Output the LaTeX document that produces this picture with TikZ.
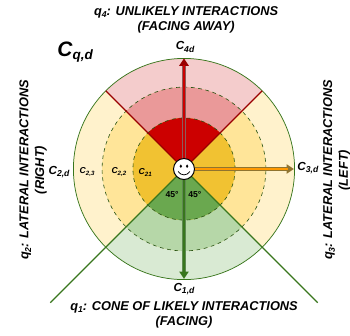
\documentclass[tikz,border=0pt]{standalone}
\usepackage{fontspec}
\setmainfont{Liberation Sans}
\definecolor{ltred}{HTML}{F4CCCC}
\definecolor{mdred}{HTML}{EA9999}
\definecolor{dkred}{HTML}{CC0000}
\definecolor{ltyellow}{HTML}{FFF2CC}
\definecolor{mdyellow}{HTML}{FFE599}
\definecolor{dkyellow}{HTML}{F1C232}
\definecolor{ltgreen}{HTML}{D9EAD3}
\definecolor{mdgreen}{HTML}{B6D7A8}
\definecolor{dkgreen}{HTML}{6AA84F}
\definecolor{linegreen}{HTML}{38761D}
\definecolor{linered}{HTML}{990000}
\definecolor{lineorange}{HTML}{FF9900}
\definecolor{edgered}{HTML}{8E5A5A}
\definecolor{edgegreen}{HTML}{5F8A52}
\definecolor{edgeorange}{HTML}{8F7430}
\usetikzlibrary{arrows.meta,positioning}
\newcommand{\lowsub}[1]{\raisebox{-0.4ex}{\scriptsize #1}}

\begin{document}
\begin{tikzpicture}[
  title/.style={font=\fontsize{10.4}{12.8}\selectfont\bfseries\itshape, align=center, text=black},
  clabel/.style={font=\fontsize{9.5}{11}\selectfont\bfseries\itshape, inner sep=0pt},
  rlabel/.style={font=\fontsize{7}{8}\selectfont\bfseries\itshape, inner sep=0pt},
  ring/.style={dashed, draw=linegreen!70!black, line width=0.5pt},
  core/.style={line width=1.4pt}
]
\useasboundingbox (-5.257,-4.743) rectangle (4.743,4.829);

% Rings
\foreach \rad/\colY/\colR/\colG in {3.16/ltyellow/ltred/ltgreen, 2.34/mdyellow/mdred/mdgreen, 1.46/dkyellow/dkred/dkgreen} {
  \fill[\colY] (0,0) circle (\rad);
  \fill[\colR] (0,0) -- (45:\rad) arc (45:135:\rad) -- cycle;
  \fill[\colG] (0,0) -- (225:\rad) arc (225:315:\rad) -- cycle;
}
\draw[ring] (0,0) circle (2.34);
\draw[ring] (0,0) circle (1.46);
\draw[linegreen, line width=0.6pt] (0,0) circle (3.16);

% Center node
\node[circle, draw=black, fill=white, line width=0.8pt, minimum size=0.6cm, inner sep=0pt] (face) at (0,0) {};

% Free ends
\coordinate (redl) at (135:3.16);
\coordinate (redr) at (45:3.16);
\coordinate (grnl) at (-3.82,-3.82);
\coordinate (grnr) at (3.82,-3.82);
\coordinate (up) at (0,3.16);
\coordinate (down) at (0,-3.14);
\coordinate (right) at (3.14,0);

% Sector lines
\draw[linered, line width=0.9pt] (face) -- (redl);
\draw[linered, line width=0.9pt] (face) -- (redr);
\draw[linegreen, line width=0.9pt] (face) -- (grnl);
\draw[linegreen, line width=0.9pt] (face) -- (grnr);

% Arrows
\draw[line width=2.8pt, draw=edgered, -{Triangle[length=6pt,width=7.5pt,color=linered]}] (face) -- (up);
\draw[core, draw=dkred, shorten >=5pt] (face) -- (up);
\draw[line width=2.8pt, draw=edgegreen, -{Triangle[length=6pt,width=7.5pt,color=linegreen]}] (face) -- (down);
\draw[core, draw=linegreen, shorten >=5pt] (face) -- (down);
\draw[line width=2.8pt, draw=edgeorange, -{Triangle[length=6pt,width=7.5pt,color=edgeorange]}] (face) -- (right);
\draw[core, draw=lineorange, shorten >=5pt] (face) -- (right);

% Face
\fill[black] (-0.09,0.08) ellipse (0.035 and 0.05);
\fill[black] (0.09,0.08) ellipse (0.035 and 0.05);
\draw[black, line width=0.6pt] (-0.17,-0.07) .. controls (-0.08,-0.2) and (0.08,-0.2) .. (0.17,-0.07);

% Labels
\node[font=\fontsize{17}{20}\selectfont\bfseries\itshape, inner sep=0pt] (cqd) at (-3.11,3.34) {C\raisebox{-0.35ex}{\fontsize{11}{12}\selectfont q,d}};
\node[clabel] (c4d) at (0.03,3.49) {C\lowsub{4d}};
\node[clabel] (c3d) at (3.54,0.03) {C\lowsub{3,d}};
\node[clabel] (c2d) at (-3.57,-0.09) {C\lowsub{2,d}};
\node[clabel] (c1d) at (0,-3.43) {C\lowsub{1,d}};
\node[rlabel] (c23) at (-2.77,-0.09) {C\raisebox{-0.4ex}{\tiny 2,3}};
\node[rlabel] (c22) at (-1.86,-0.09) {C\raisebox{-0.4ex}{\tiny 2,2}};
\node[rlabel] (c21) at (-1.11,-0.09) {C\raisebox{-0.4ex}{\tiny 21}};
\node[font=\fontsize{7}{8}\selectfont\bfseries, inner sep=0pt] (degl) at (-0.34,-0.74) {45°};
\node[font=\fontsize{7}{8}\selectfont\bfseries, inner sep=0pt] (degr) at (0.31,-0.74) {45°};

% Titles
\node[title] (q4) at (0.06,4.26) {q\lowsub{4}: UNLIKELY INTERACTIONS\\(FACING AWAY)};
\node[title] (q1) at (0,-4.17) {q\lowsub{1}: CONE OF LIKELY INTERACTIONS\\(FACING)};
\node[title, rotate=90] (q2) at (-4.31,-0.03) {q\lowsub{2}: LATERAL INTERACTIONS\\(RIGHT)};
\node[title, rotate=90] (q3) at (4.37,-0.03) {q\lowsub{3}: LATERAL INTERACTIONS\\(LEFT)};
\end{tikzpicture}
\end{document}
